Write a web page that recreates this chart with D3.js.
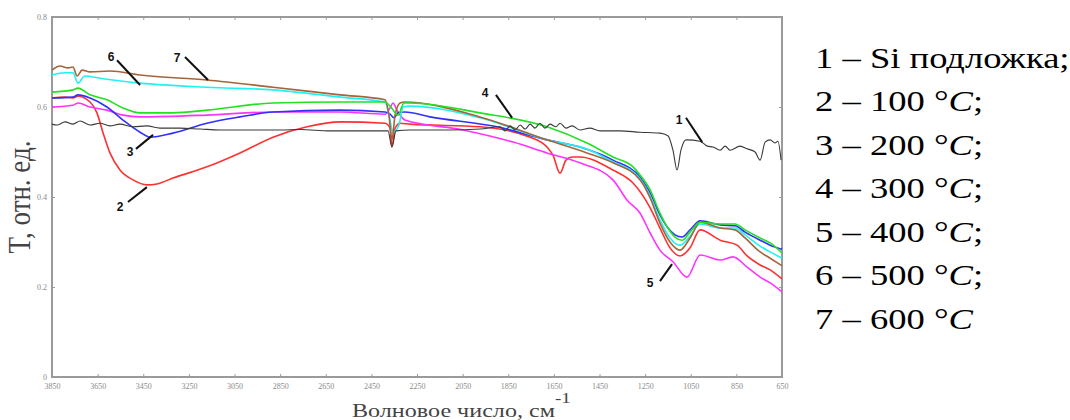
<!DOCTYPE html>
<html>
<head>
<meta charset="utf-8">
<script src="https://cdn.jsdelivr.net/npm/d3@7"></script>
<style>
  html, body { margin: 0; padding: 0; background: #fff; }
  svg { display: block; }
</style>
</head>
<body>
<svg id="chart" width="1070" height="420"></svg>
<script>
// FTIR transmission spectra, wavenumber (cm-1) vs T (rel. units)

const xTicks = [3850, 3650, 3450, 3250, 3050, 2850, 2650, 2450, 2250, 2050, 1850, 1650, 1450, 1250, 1050, 850, 650];
const yTicks = [0, 0.2, 0.4, 0.6, 0.8];

// 1 - Si substrate
const siWn = [3850, 3828, 3793, 3758, 3727, 3683, 3640, 3596, 3552, 3495, 3434, 3377, 3289, 3201, 3114, 2982, 2851, 2763, 2631, 2544, 2456, 2377, 2360, 2342, 2281, 2105, 1974, 1886, 1864, 1842, 1820, 1798, 1776, 1754, 1733, 1711, 1689, 1667, 1641, 1623, 1597, 1570, 1536, 1492, 1448, 1360, 1272, 1185, 1150, 1128, 1110, 1093, 1071, 1009, 978, 952, 921, 899, 878, 834, 803, 768, 746, 724, 702, 681, 668, 654];
const siT = [0.562, 0.560, 0.567, 0.562, 0.569, 0.560, 0.564, 0.558, 0.562, 0.556, 0.558, 0.553, 0.553, 0.551, 0.549, 0.549, 0.549, 0.550, 0.547, 0.547, 0.547, 0.547, 0.511, 0.547, 0.549, 0.549, 0.551, 0.556, 0.547, 0.558, 0.549, 0.560, 0.551, 0.562, 0.553, 0.564, 0.553, 0.562, 0.556, 0.564, 0.553, 0.558, 0.549, 0.553, 0.547, 0.547, 0.544, 0.542, 0.536, 0.504, 0.460, 0.504, 0.527, 0.524, 0.513, 0.511, 0.504, 0.513, 0.504, 0.513, 0.507, 0.500, 0.482, 0.522, 0.527, 0.520, 0.524, 0.482];

// 2 - 100 C
const t100Wn = [3850, 3793, 3758, 3736, 3683, 3653, 3626, 3596, 3552, 3495, 3434, 3390, 3320, 3171, 3026, 2881, 2732, 2587, 2390, 2368, 2360, 2346, 2324, 2281, 1974, 1754, 1680, 1654, 1623, 1597, 1570, 1536, 1391, 1303, 1228, 1185, 1141, 1097, 1053, 1009, 921, 847, 803, 746, 702, 650];
const t100T = [0.620, 0.622, 0.620, 0.624, 0.611, 0.587, 0.542, 0.498, 0.460, 0.438, 0.427, 0.429, 0.442, 0.467, 0.498, 0.533, 0.556, 0.567, 0.564, 0.553, 0.511, 0.553, 0.564, 0.562, 0.556, 0.533, 0.511, 0.493, 0.453, 0.482, 0.489, 0.489, 0.460, 0.431, 0.376, 0.331, 0.287, 0.269, 0.287, 0.327, 0.304, 0.293, 0.269, 0.249, 0.238, 0.218];

// 3 - 200 C
const t200Wn = [3850, 3758, 3736, 3683, 3609, 3539, 3464, 3420, 3320, 3171, 3026, 2881, 2587, 2390, 2368, 2351, 2333, 2303, 2193, 1899, 1680, 1536, 1391, 1272, 1228, 1185, 1150, 1119, 1088, 1053, 1009, 921, 856, 812, 746, 702, 650];
const t200T = [0.620, 0.622, 0.627, 0.620, 0.600, 0.571, 0.544, 0.533, 0.542, 0.564, 0.578, 0.589, 0.593, 0.589, 0.584, 0.576, 0.587, 0.589, 0.578, 0.556, 0.527, 0.511, 0.482, 0.444, 0.409, 0.360, 0.331, 0.316, 0.311, 0.327, 0.347, 0.338, 0.336, 0.322, 0.304, 0.293, 0.284];

// 4 - 300 C
const t300Wn = [3850, 3758, 3736, 3683, 3609, 3539, 3464, 3320, 3171, 2881, 2587, 2390, 2368, 2333, 2307, 2281, 1974, 1680, 1505, 1391, 1303, 1272, 1228, 1185, 1150, 1119, 1088, 1053, 1009, 921, 856, 812, 746, 702, 650];
const t300T = [0.633, 0.638, 0.642, 0.627, 0.616, 0.598, 0.587, 0.587, 0.593, 0.609, 0.611, 0.611, 0.602, 0.582, 0.609, 0.609, 0.587, 0.556, 0.520, 0.489, 0.467, 0.449, 0.416, 0.364, 0.331, 0.311, 0.304, 0.322, 0.344, 0.340, 0.340, 0.327, 0.309, 0.298, 0.276];

// 5 - 400 C
const t400Wn = [3850, 3758, 3736, 3683, 3609, 3539, 3464, 3171, 2881, 2587, 2390, 2368, 2355, 2338, 2303, 2048, 1829, 1680, 1536, 1391, 1329, 1272, 1228, 1185, 1128, 1066, 1009, 921, 865, 803, 746, 702, 650];
const t400T = [0.600, 0.604, 0.609, 0.600, 0.593, 0.582, 0.578, 0.582, 0.589, 0.589, 0.584, 0.598, 0.609, 0.593, 0.571, 0.549, 0.522, 0.498, 0.476, 0.438, 0.393, 0.364, 0.320, 0.282, 0.256, 0.222, 0.271, 0.260, 0.267, 0.244, 0.222, 0.209, 0.189];

// 6 - 500 C
const t500Wn = [3850, 3793, 3758, 3736, 3706, 3640, 3464, 3171, 2881, 2587, 2390, 2373, 2355, 2329, 2311, 2281, 1974, 1680, 1492, 1391, 1303, 1272, 1228, 1185, 1141, 1097, 1053, 1009, 921, 856, 812, 746, 702, 650];
const t500T = [0.671, 0.676, 0.676, 0.653, 0.669, 0.664, 0.653, 0.644, 0.638, 0.622, 0.611, 0.582, 0.544, 0.560, 0.600, 0.602, 0.576, 0.527, 0.504, 0.478, 0.456, 0.440, 0.402, 0.349, 0.309, 0.293, 0.313, 0.340, 0.331, 0.331, 0.316, 0.291, 0.278, 0.264];

// 7 - 600 C
const t600Wn = [3850, 3815, 3780, 3758, 3740, 3718, 3683, 3596, 3464, 3171, 2881, 2587, 2390, 2373, 2360, 2346, 2324, 2303, 1974, 1680, 1505, 1391, 1272, 1228, 1185, 1141, 1097, 1053, 1009, 921, 856, 812, 746, 702, 650];
const t600T = [0.682, 0.691, 0.687, 0.689, 0.669, 0.682, 0.678, 0.680, 0.671, 0.660, 0.644, 0.627, 0.616, 0.582, 0.527, 0.582, 0.609, 0.611, 0.578, 0.527, 0.498, 0.476, 0.438, 0.398, 0.342, 0.300, 0.282, 0.309, 0.344, 0.331, 0.327, 0.309, 0.278, 0.264, 0.247];

const seriesNames = ["1", "2", "3", "4", "5", "6", "7"];
const seriesColors = ["#3a3a3a", "#ff3030", "#3030ff", "#22e022", "#ff33ff", "#1ff2f2", "#a5643a"];

// curve number labels: [wn, T] of the label, and the leader line
const labelText = ["6", "7", "3", "2", "4", "5", "1"];
const labelPos = [[3591, 0.711], [3302, 0.709], [3508, 0.500], [3552, 0.378], [1952, 0.631], [1228, 0.209], [1101, 0.571]];
const leaderFrom = [[3565, 0.704], [3267, 0.711], [3482, 0.507], [3517, 0.389], [1904, 0.627], [1185, 0.213], [1071, 0.576]];
const leaderTo = [[3464, 0.649], [3166, 0.660], [3407, 0.538], [3434, 0.422], [1833, 0.576], [1132, 0.251], [1000, 0.522]];

const legendRows = [
	["1 – Si подложка;", ""],
	["2 – 100 °", "C", ";"],
	["3 – 200 °", "C", ";"],
	["4 – 300 °", "C", ";"],
	["5 – 400 °", "C", ";"],
	["6 – 500 °", "C", ";"],
	["7 – 600 °", "C", ""],
];

function zip(wn, t) {
	return wn.map((w, i) => ({ wn: w, t: t[i] }));
}

const series = [
	zip(siWn, siT),
	zip(t100Wn, t100T),
	zip(t200Wn, t200T),
	zip(t300Wn, t300T),
	zip(t400Wn, t400T),
	zip(t500Wn, t500T),
	zip(t600Wn, t600T),
];

const svg = d3.select("#chart");
const margin = { left: 52, right: 288, top: 17, bottom: 43 };
const width = 1070;
const height = 420;

const x = d3.scaleLinear().domain([3850, 650]).range([margin.left, width - margin.right]);
const y = d3.scaleLinear().domain([0, 0.8]).range([height - margin.bottom, margin.top]);

const axisColor = "#9a9a9a";
const serif = "'Liberation Serif', 'DejaVu Serif', serif";

// frame
svg.append("rect")
	.attr("x", x(3850))
	.attr("y", y(0.8))
	.attr("width", x(650) - x(3850))
	.attr("height", y(0) - y(0.8))
	.attr("fill", "none")
	.attr("stroke", axisColor)
	.attr("stroke-width", 2);

// axes with small inner ticks
const xAxis = svg.append("g")
	.attr("transform", `translate(0,${y(0)})`)
	.call(d3.axisBottom(x).tickValues(xTicks).tickSize(-3).tickPadding(6).tickFormat(d3.format("d")));
const xAxisTop = svg.append("g")
	.attr("transform", `translate(0,${y(0.8)})`)
	.call(d3.axisTop(x).tickValues(xTicks).tickSize(-3).tickFormat(""));
const yAxis = svg.append("g")
	.attr("transform", `translate(${x(3850)},0)`)
	.call(d3.axisLeft(y).tickValues(yTicks).tickSize(-3).tickPadding(5).tickFormat(d3.format("")));
const yAxisRight = svg.append("g")
	.attr("transform", `translate(${x(650)},0)`)
	.call(d3.axisRight(y).tickValues(yTicks).tickSize(-3).tickFormat(""));

[xAxis, xAxisTop, yAxis, yAxisRight].forEach((g) => {
	g.select(".domain").remove();
	g.selectAll(".tick line").attr("stroke", axisColor).attr("stroke-width", 1);
	g.selectAll(".tick text")
		.attr("fill", "#8a8a8a")
		.style("font-family", serif)
		.style("font-size", "8px");
});

// lines
const line = d3.line()
	.x((d) => x(d.wn))
	.y((d) => y(d.t))
	.curve(d3.curveMonotoneX);

const drawOrder = [1, 4, 2, 5, 6, 3, 0];
svg.append("g")
	.selectAll("path")
	.data(drawOrder)
	.join("path")
	.attr("d", (i) => line(series[i].slice().sort((a, b) => b.wn - a.wn)))
	.attr("fill", "none")
	.attr("stroke", (i) => seriesColors[i])
	.attr("stroke-width", (i) => (i === 0 ? 1.1 : 1.6))
	.attr("stroke-linejoin", "round");

// curve labels
const ann = svg.append("g");
ann.selectAll("line")
	.data(labelText)
	.join("line")
	.attr("x1", (d, i) => x(leaderFrom[i][0]))
	.attr("y1", (d, i) => y(leaderFrom[i][1]))
	.attr("x2", (d, i) => x(leaderTo[i][0]))
	.attr("y2", (d, i) => y(leaderTo[i][1]))
	.attr("stroke", "#111")
	.attr("stroke-width", 2);
ann.selectAll("text")
	.data(labelText)
	.join("text")
	.attr("x", (d, i) => x(labelPos[i][0]))
	.attr("y", (d, i) => y(labelPos[i][1]))
	.attr("text-anchor", "middle")
	.attr("dominant-baseline", "central")
	.style("font-family", "'Liberation Sans', Arial, sans-serif")
	.style("font-weight", "bold")
	.style("font-size", "12px")
	.attr("fill", "#111")
	.text((d) => d);

// axis titles (the source picture is stretched sideways, hence the scale)
svg.append("text")
	.attr("transform", `translate(19,${(y(0) + y(0.8)) / 2}) scale(1.2,1) rotate(-90)`)
	.attr("text-anchor", "middle")
	.attr("dominant-baseline", "central")
	.style("font-family", serif)
	.style("font-size", "27px")
	.attr("fill", "#444")
	.text("T, отн. ед.");

const xTitle = svg.append("text")
	.attr("transform", "translate(352,417) scale(1.27,1)")
	.style("font-family", serif)
	.style("font-size", "19px")
	.attr("fill", "#444");
xTitle.append("tspan").text("Волновое число, см");
xTitle.append("tspan").attr("dy", -14).style("font-size", "15px").text("-1");

// legend
const legend = svg.append("g").attr("transform", "translate(815,0) scale(1.22,1)");
legendRows.forEach((row, i) => {
	const t = legend.append("text")
		.attr("x", 0)
		.attr("y", 68 + i * 43.5)
		.style("font-family", serif)
		.style("font-size", "30px")
		.attr("fill", "#000");
	t.append("tspan").text(row[0]);
	if (row[1]) t.append("tspan").style("font-style", "italic").text(row[1]);
	if (row[2]) t.append("tspan").text(row[2]);
});
</script>
</body>
</html>
